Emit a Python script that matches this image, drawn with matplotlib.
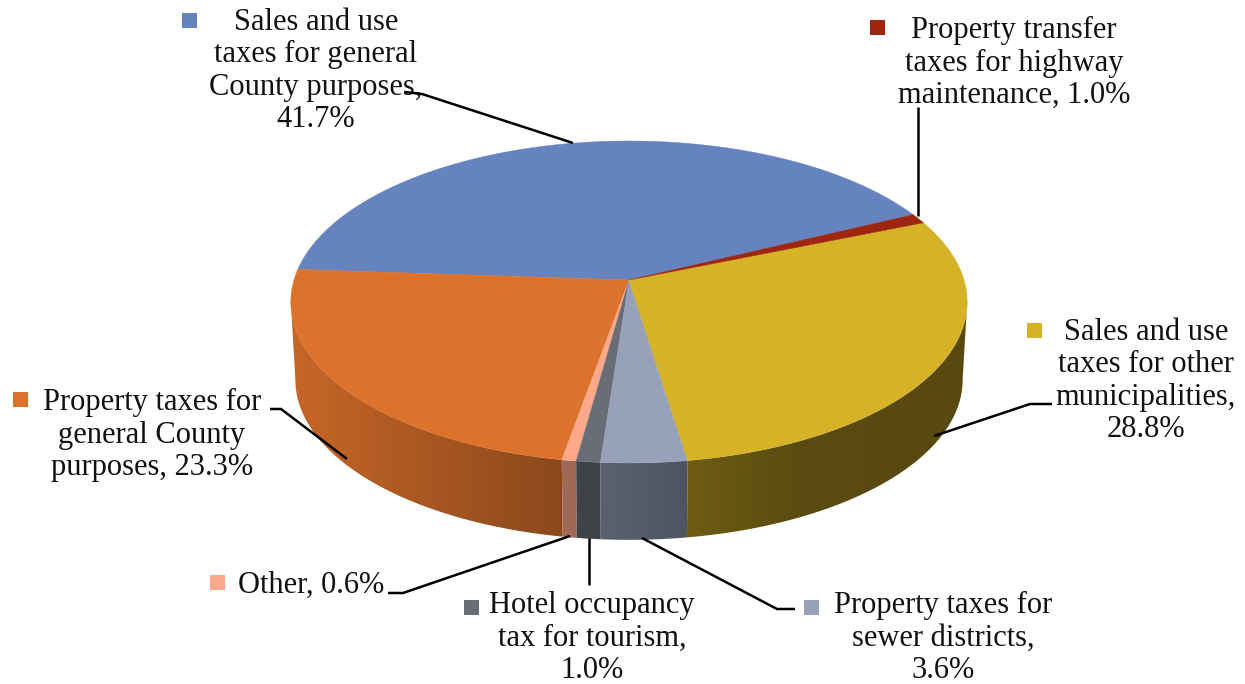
import numpy as np
import matplotlib
matplotlib.use("Agg")
import matplotlib.pyplot as plt
from matplotlib.patches import Polygon, Rectangle
from matplotlib.colors import to_rgb

labels = ["Sales and use\ntaxes for general\nCounty purposes,\n41.7%",
          "Property taxes for\ngeneral County\npurposes, 23.3%",
          "Other, 0.6%",
          "Hotel occupancy\ntax for tourism,\n1.0%",
          "Property taxes for\nsewer districts,\n3.6%",
          "Sales and use\ntaxes for other\nmunicipalities,\n28.8%",
          "Property transfer\ntaxes for highway\nmaintenance, 1.0%"]
values = [41.7, 23.3, 0.6, 1.0, 3.6, 28.8, 1.0]
colors = ["#6583BE", "#DD722C", "#FFA98A", "#686D76", "#97A1BA", "#D6B326", "#9E2510"]

# layout, all in image pixels
START = 26.0
TILT = 0.1366
label_xy = [(316, 71), (152, 435), (311, 585), (592, 638), (943, 638), (1146, 381), (1014, 63)]
swatch_xy = [(182, 13), (13, 392), (210, 575), (464, 600), (804, 600), (1027, 323), (870, 20)]
leaders = [[(405, 92), (422, 94), (573, 143)],
           [(270, 409), (281, 409), (347, 459)],
           [(570, 536), (403, 593), (388, 593)],
           [(589, 538), (589, 585)],
           [(642, 538), (777, 609), (795, 609)],
           [(934, 436), (1030, 404), (1052, 404)],
           [(918, 107), (918, 216)]]
shade_x = [291, 560, 600, 686, 800, 968]
shade_v = [0.90, 0.63, 0.60, 0.52, 0.42, 0.41]
# the wall shows between the two points where the outline turns
WALL_FROM = 187.85
WALL_TO = 352.15


def project(deg, cx, cy, rx, ry):
    t = np.radians(deg)
    w = 1 + TILT * np.sin(t)
    return cx + rx * np.cos(t) / w, cy - ry * np.sin(t) / w


def top_point(deg):
    return project(deg, 629, 280, 335, 158)


def bottom_point(deg):
    return project(deg, 629, 358, 330.5, 157)


fig = plt.figure(figsize=(12.45, 6.84), dpi=100)
ax = fig.add_axes([0, 0, 1, 1])
ax.set_xlim(0, 1245)
ax.set_ylim(684, 0)
ax.axis("off")

edges = START + np.concatenate([[0], np.cumsum(values)]) * 3.6
columns = np.interp(np.arange(1245), shade_x, shade_v)

# side wall, only the part facing the viewer
for i in range(len(values)):
    lo = max(edges[i], WALL_FROM)
    hi = min(edges[i + 1], WALL_TO)
    if hi <= lo:
        continue
    arc = np.linspace(lo, hi, 200)
    tx, ty = top_point(arc)
    bx, by = bottom_point(arc)
    outline = list(zip(tx, ty)) + list(zip(bx[::-1], by[::-1]))
    patch = Polygon(outline, closed=True, facecolor="none", edgecolor="none")
    ax.add_patch(patch)
    img = columns[np.newaxis, :, np.newaxis] * np.array(to_rgb(colors[i]))
    im = ax.imshow(img, extent=(0, 1245, 684, 0), aspect="auto", zorder=1)
    im.set_clip_path(patch)

# top face
for i in range(len(values)):
    arc = np.linspace(edges[i], edges[i + 1], 200)
    xs, ys = top_point(arc)
    pts = [(629, 280)] + list(zip(xs, ys))
    ax.add_patch(Polygon(pts, closed=True, facecolor=colors[i], edgecolor=colors[i], lw=0.3, zorder=2))

for i in range(len(values)):
    ax.text(label_xy[i][0], label_xy[i][1], labels[i], family="Liberation Serif", fontsize=22,
            ha="center", va="center", ma="center", linespacing=1.14, color="#111111", zorder=4)
    ax.add_patch(Rectangle(swatch_xy[i], 15, 15, facecolor=colors[i], edgecolor="none", zorder=3))
    px, py = zip(*leaders[i])
    ax.plot(px, py, color="black", lw=1.8, solid_capstyle="butt", solid_joinstyle="miter", zorder=5)

ax.set_xlim(0, 1245)
ax.set_ylim(684, 0)
fig.savefig("out.png", dpi=100)
